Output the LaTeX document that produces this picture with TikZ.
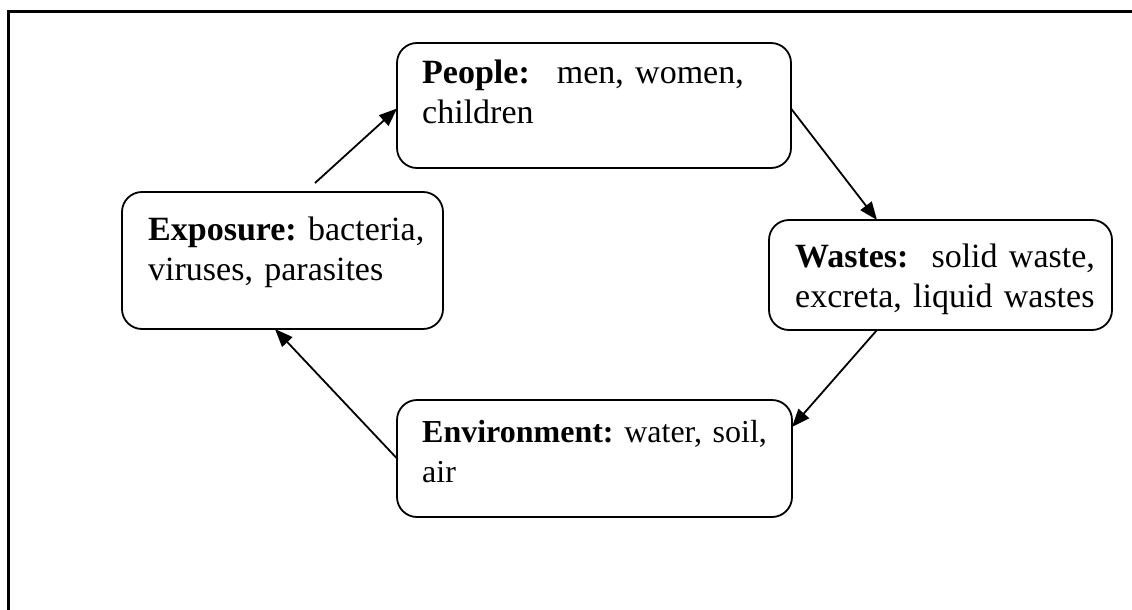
\documentclass[tikz,border=0pt]{standalone}
\usepackage{fontspec}
\setmainfont{Liberation Serif}
\usetikzlibrary{arrows.meta,calc}
\tikzset{
  box/.style={draw, line width=1.8pt, rounded corners=20pt, inner sep=0pt, outer sep=0pt, rectangle},
  lbl/.style={anchor=base west, inner sep=0pt, align=left, text width=#1, font=\fontsize{34}{40}\selectfont\frenchspacing},
  arr/.style={line width=1.8pt, -{Triangle[length=18pt,width=14pt]}},
  frame/.style={line width=3pt}
}
\begin{document}
\begin{tikzpicture}[x=1pt,y=-1pt]
\useasboundingbox (0,0) rectangle (1132,610);
\coordinate (ftr) at (1132,12);
\coordinate (ftl) at (8,12);
\coordinate (fbl) at (8,610);
\draw[frame] (ftr) -- (ftl) -- (fbl);

\node[box, minimum width=394pt, minimum height=125pt] (people) at (594,105.5) {};
\node[box, minimum width=321pt, minimum height=137pt] (exposure) at (282.5,260.5) {};
\node[box, minimum width=343pt, minimum height=110pt] (wastes) at (940.5,275) {};
\node[box, minimum width=395pt, minimum height=117pt] (env) at (594.5,458.5) {};

\node[lbl=450pt] (tpeople) at (422,83) {\textbf{People:}\hspace{27pt}men, women,\\children};
\node[lbl=400pt] (texposure) at (148,240) {\textbf{Exposure:} bacteria,\\viruses, parasites};
\node[lbl=400pt] (twastes) at (795,267) {\textbf{Wastes:}\hspace{23pt}solid waste,\\excreta, liquid wastes};
\node[lbl=450pt, font=\fontsize{32}{40}\selectfont\frenchspacing] (tenv) at (422,442) {\textbf{Environment:} water, soil,\\air};

\coordinate (estart) at ([shift={(193pt,9pt)}]exposure.north west);
\draw[arr] (estart) -- ([yshift=-3pt]people.west);
\draw[arr] ([yshift=-3pt]people.east) -- ([xshift=108pt]wastes.north west);
\draw[arr] ([xshift=108pt]wastes.south west) -- ([yshift=-27pt]env.north east);
\draw[arr] (env.west) -- ([xshift=153pt]exposure.south west);
\end{tikzpicture}
\end{document}
